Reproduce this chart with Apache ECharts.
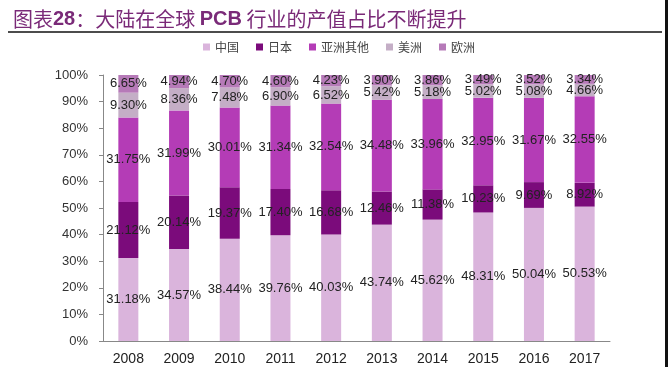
<!DOCTYPE html>
<html><head><meta charset="utf-8">
<script src="https://cdn.jsdelivr.net/npm/echarts@6/dist/echarts.min.js"></script>
<style>html,body{margin:0;padding:0;background:#fff}#c{width:668px;height:367px}</style>
</head><body><div id="c"></div>
<script>
var years = ['2008','2009','2010','2011','2012','2013','2014','2015','2016','2017'];
var china = [31.18,34.57,38.44,39.76,40.03,43.74,45.62,48.31,50.04,50.53];
var japan = [21.12,20.14,19.37,17.40,16.68,12.46,11.38,10.23,9.69,8.92];
var asiaOther = [31.75,31.99,30.01,31.34,32.54,34.48,33.96,32.95,31.67,32.55];
var america = [9.30,8.36,7.48,6.90,6.52,5.42,5.18,5.02,5.08,4.66];
var europe = [6.65,4.94,4.70,4.60,4.23,3.90,3.86,3.49,3.52,3.34];
var seriesNames = ['中国','日本','亚洲其他','美洲','欧洲'];
var yTicks = [0,10,20,30,40,50,60,70,80,90,100];

var colors = ['#dab4dc','#7b0b7b','#b43cb6','#c4aec6','#b67ab8'];
var dataSets = [china, japan, asiaOther, america, europe];
var chart = echarts.init(document.getElementById('c'));
var series = dataSets.map(function(d,i){
  return {
    name: seriesNames[i], type:'bar', stack:'total', data:d, barWidth:20,
    itemStyle:{color:colors[i]},
    label:{show:true, position:'inside', formatter:function(p){return p.value.toFixed(2)+'%';},
      color:'#222', fontSize:13, fontFamily:'Liberation Sans'},
    emphasis:{disabled:true}
  };
});
chart.setOption({
  animation:false,
  backgroundColor:'#fff',
  title:{
    left:8, top:4,
    text:'{a|图表}{b|28}{a|：大陆在全球 }{b|PCB}{a| 行业的产值占比不断提升}',
    textStyle:{fontWeight:'normal', rich:{
      a:{fontFamily:'Noto Sans CJK SC', fontSize:20, fontWeight:'normal', color:'#7a2a78'},
      b:{fontFamily:'Liberation Sans', fontSize:20, fontWeight:'bold', color:'#7a2a78'}
    }}
  },
  legend:{
    left:198, top:36, itemWidth:7, itemHeight:7, itemGap:17,
    icon:'rect',
    textStyle:{fontFamily:'Noto Sans CJK SC', fontSize:12, color:'#444'},
    data:seriesNames
  },
  grid:{left:103, right:58, top:75, bottom:26},
  xAxis:{
    type:'category', data:years,
    axisLine:{lineStyle:{color:'#888'}},
    axisTick:{show:false},
    axisLabel:{color:'#222', fontSize:14, fontFamily:'Liberation Sans', margin:11}
  },
  yAxis:{
    type:'value', min:0, max:100, interval:10,
    axisLine:{show:true, lineStyle:{color:'#888'}},
    axisTick:{show:true, length:4, lineStyle:{color:'#888'}},
    splitLine:{show:false},
    axisLabel:{color:'#333', fontSize:13, fontFamily:'Liberation Sans', margin:15,
      formatter:function(v){return yTicks.indexOf(v)>=0 ? v+'%' : '';}}
  },
  graphic:[
    {type:'line', shape:{x1:8,y1:32,x2:662,y2:32}, style:{stroke:'#111', lineWidth:1.5}},
    {type:'rect', shape:{x:665,y:0,width:3,height:367}, style:{fill:'#111'}}
  ],
  series:series
});
</script></body></html>
